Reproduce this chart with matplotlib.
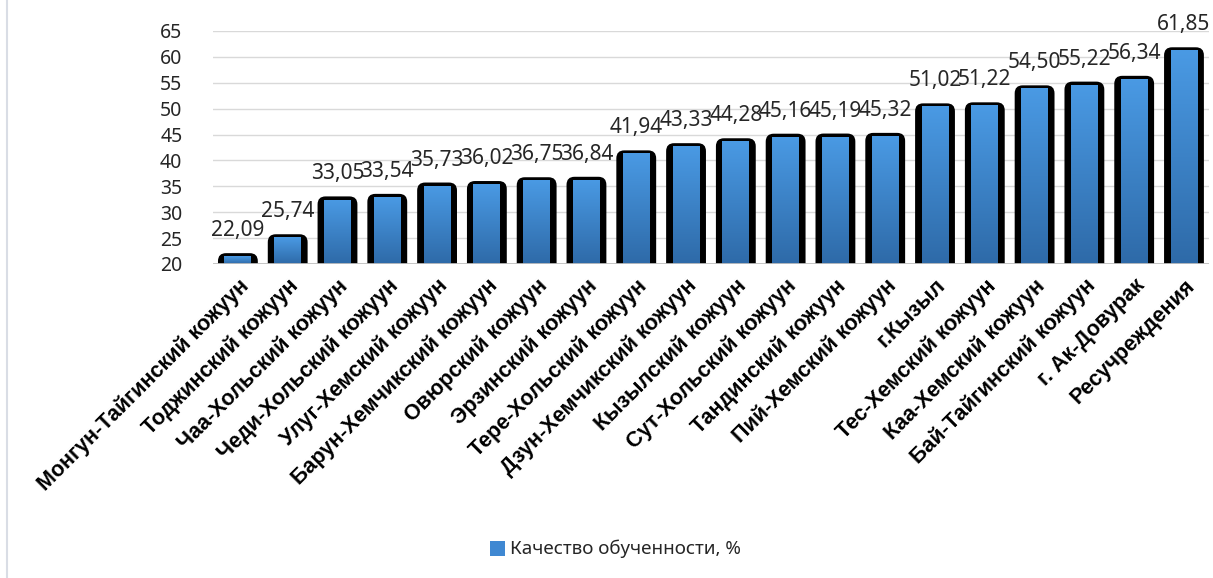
import numpy as np
import matplotlib.pyplot as plt
from matplotlib.patches import FancyBboxPatch, Rectangle
from matplotlib.lines import Line2D
from matplotlib.colors import LinearSegmentedColormap

# Data
districts = ['Монгун-Тайгинский кожуун', 'Тоджинский кожуун', 'Чаа-Хольский кожуун',
             'Чеди-Хольский кожуун', 'Улуг-Хемский кожуун', 'Барун-Хемчикский кожуун',
             'Овюрский кожуун', 'Эрзинский кожуун', 'Тере-Хольский кожуун',
             'Дзун-Хемчикский кожуун', 'Кызылский кожуун', 'Сут-Хольский кожуун',
             'Тандинский кожуун', 'Пий-Хемский кожуун', 'г.Кызыл', 'Тес-Хемский кожуун',
             'Каа-Хемский кожуун', 'Бай-Тайгинский кожуун', 'г. Ак-Довурак', 'Ресучреждения']
quality = [22.09, 25.74, 33.05, 33.54, 35.73, 36.02, 36.75, 36.84, 41.94, 43.33,
           44.28, 45.16, 45.19, 45.32, 51.02, 51.22, 54.50, 55.22, 56.34, 61.85]
yticks = [20, 25, 30, 35, 40, 45, 50, 55, 60, 65]

plt.rcParams['font.family'] = ['Noto Sans', 'DejaVu Sans']

fig = plt.figure(figsize=(12.13, 5.78), dpi=100)
ax = fig.add_axes([0.1756, 0.5433, 0.821, 0.4031])

ymin = 20
ax.set_xlim(-0.5, len(quality) - 0.5)
ax.set_ylim(ymin, 65)

# px per unit, for rounding the bar tops
px_x = 0.821 * 1213 / len(quality)
px_y = 0.4031 * 578 / 45.0
aspect = px_x / px_y

grad = LinearSegmentedColormap.from_list('bluegrad', ['#2e6aa8', '#4a9ae4'])
gimg = np.linspace(0, 1, 256).reshape(-1, 1)

for i, v in enumerate(quality):
    # black shadow body with rounded top
    w = 0.8
    body = FancyBboxPatch((i - w / 2, ymin - 5), w, v - ymin + 5,
                          boxstyle='round,pad=0,rounding_size=0.16',
                          mutation_aspect=aspect, fc='black', ec='none', zorder=3)
    ax.add_patch(body)
    # blue gradient front
    bw = 0.54
    top = v - 0.6
    clip = Rectangle((i - bw / 2, ymin), bw, top - ymin, transform=ax.transData)
    im = ax.imshow(gimg, cmap=grad, aspect='auto', origin='lower',
                   extent=(i - bw / 2, i + bw / 2, ymin, top), zorder=4)
    im.set_clip_path(clip)
    ax.text(i, v + 2.3, f'{v:.2f}'.replace('.', ','), ha='center', va='bottom',
            fontsize=15, color='#262626', zorder=5, clip_on=False)

ax.set_xlim(-0.5, len(quality) - 0.5)
ax.set_ylim(ymin, 65)

ax.set_yticks(yticks)
ax.set_yticklabels([str(t) for t in yticks], fontsize=14, color='#262626')
ax.set_xticks(range(len(districts)))
ax.set_xticklabels(districts, rotation=45, ha='right', rotation_mode='anchor',
                   fontsize=15.5, fontweight='bold', color='black',
                   family=['Liberation Sans', 'DejaVu Sans'])
ax.tick_params(axis='both', length=0, pad=8)
ax.tick_params(axis='y', pad=22)

ax.grid(axis='y', color='#d9d9d9', lw=1, zorder=0)
ax.set_axisbelow(True)
for s in ax.spines.values():
    s.set_visible(False)
ax.axhline(ymin, color='#bfbfbf', lw=2, zorder=6)

# legend
fig.patches.append(Rectangle((490 / 1213, 1 - 556 / 578), 15 / 1213, 15 / 578,
                             transform=fig.transFigure, fc='#3f88d2', ec='none'))
fig.text(510 / 1213, 1 - 549 / 578, 'Качество обученности, %', fontsize=13.5,
         color='#262626', va='center', ha='left')

# chart border on the left
fig.add_artist(Line2D([7 / 1213, 7 / 1213], [0, 1], color='#d9dde5', lw=1.5,
                      transform=fig.transFigure))

fig.savefig('out.png', dpi=100)
